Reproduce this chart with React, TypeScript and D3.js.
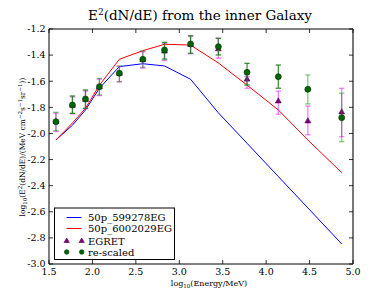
import React from "react";
import * as d3 from "d3";

const logE = [1.58, 1.77, 1.92, 2.08, 2.31, 2.58, 2.83, 3.13, 3.45, 3.78, 4.14, 4.48, 4.87];
const model599278 = [-2.05, -1.937, -1.82, -1.654, -1.488, -1.466, -1.483, -1.585, -1.842, -2.075, -2.33, -2.57, -2.846];
const model6002029 = [-2.05, -1.92, -1.807, -1.631, -1.432, -1.366, -1.317, -1.323, -1.46, -1.63, -1.82, -2.05, -2.30];

const egretVal = [-1.915, -1.79, -1.745, -1.65, -1.545, -1.44, -1.375, -1.325, -1.358, -1.59, -1.757, -1.91, -1.841];
const egretLo = [-1.985, -1.85, -1.81, -1.71, -1.605, -1.5, -1.44, -1.39, -1.424, -1.654, -1.853, -2.01, -2.025];
const egretHi = [-1.845, -1.72, -1.675, -1.585, -1.487, -1.375, -1.31, -1.258, -1.27, -1.565, -1.675, -1.79, -1.654];

const rescVal = [-1.91, -1.782, -1.736, -1.642, -1.539, -1.432, -1.361, -1.315, -1.335, -1.532, -1.565, -1.662, -1.879];
const rescLo = [-1.979, -1.846, -1.807, -1.705, -1.603, -1.493, -1.43, -1.386, -1.399, -1.629, -1.654, -1.774, -2.063];
const rescHi = [-1.838, -1.713, -1.667, -1.578, -1.483, -1.368, -1.302, -1.251, -1.272, -1.463, -1.476, -1.552, -1.692];
// points whose re-scaled error bars are drawn solid (stat) vs. faint
const rescSolid = [false, true, true, false, false, false, true, true, true, true, true, false, false];

const xTicks = [1.5, 2.0, 2.5, 3.0, 3.5, 4.0, 4.5, 5.0];
const yTicks = [-1.2, -1.4, -1.6, -1.8, -2.0, -2.2, -2.4, -2.6, -2.8, -3.0];
const legendLabels = ["50p_599278EG", "50p_6002029EG", "EGRET", "re-scaled"];

const W = 392, H = 294;
const L = 49, R = 353, T = 29, B = 264;

export default function App() {
  const x = d3.scaleLinear().domain([1.5, 5.0]).range([L, R]);
  const y = d3.scaleLinear().domain([-3.0, -1.2]).range([B, T]);
  const line = d3.line<number>().x((_, i) => x(logE[i])).y((d) => y(d));
  const tri = d3.symbol().type(d3.symbolTriangle).size(15)();
  const triL = d3.symbol().type(d3.symbolTriangle).size(12)();

  const errBar = (xv: number, lo: number, hi: number, color: string, op: number, key: string) => (
    <g key={key} stroke={color} strokeOpacity={op} strokeWidth={1.3}>
      <line x1={x(xv)} x2={x(xv)} y1={y(lo)} y2={y(hi)} />
      <line x1={x(xv) - 2.7} x2={x(xv) + 2.7} y1={y(lo)} y2={y(lo)} />
      <line x1={x(xv) - 2.7} x2={x(xv) + 2.7} y1={y(hi)} y2={y(hi)} />
    </g>
  );

  return (
    <svg width={W} height={H} style={{ position: "absolute", left: 0, top: 0, background: "#fff", fontFamily: "'DejaVu Serif', serif" }}>
      <rect x={0} y={0} width={W} height={H} fill="#fff" />
      <text x={200} y={20} textAnchor="middle" fontSize={13.5}>
        E<tspan dy={-5.5} fontSize={9}>2</tspan><tspan dy={5.5}>(dN/dE) from the inner Galaxy</tspan>
      </text>

      <path d={line(model599278) || ""} fill="none" stroke="#0000ff" strokeWidth={1} />
      <path d={line(model6002029) || ""} fill="none" stroke="#ff0000" strokeWidth={1} />

      {logE.map((xv, i) => errBar(xv, egretLo[i], egretHi[i], "#ff00ff", 0.5, "ee" + i))}
      {logE.map((xv, i) => (
        <path key={"et" + i} d={tri || ""} transform={`translate(${x(xv)},${y(egretVal[i]) - 0.5})`} fill="#800080" stroke="#4b004b" strokeWidth={0.6} />
      ))}
      {logE.map((xv, i) => errBar(xv, rescLo[i], rescHi[i], rescSolid[i] ? "#1f7f1f" : "#008000", rescSolid[i] ? 0.85 : 0.45, "re" + i))}
      {logE.map((xv, i) => (
        <circle key={"rc" + i} cx={x(xv)} cy={y(rescVal[i])} r={3} fill="#006400" stroke="#003000" strokeWidth={0.6} />
      ))}

      {/* axes frame */}
      <line x1={L} x2={R} y1={T} y2={T} stroke="#000" strokeWidth={1} />
      <line x1={L} x2={R} y1={B} y2={B} stroke="#000" strokeWidth={1} />
      <line x1={L} x2={L} y1={T} y2={B} stroke="#000" strokeWidth={1} />
      <line x1={R} x2={R} y1={T} y2={B} stroke="#777" strokeWidth={2} />

      {xTicks.map((t) => (
        <g key={"xt" + t}>
          <line x1={x(t)} x2={x(t)} y1={B} y2={B - 4} stroke="#000" strokeWidth={0.8} />
          <line x1={x(t)} x2={x(t)} y1={T} y2={T + 4} stroke="#000" strokeWidth={0.8} />
          <text x={x(t)} y={275} textAnchor="middle" fontSize={9.5}>{t.toFixed(1)}</text>
        </g>
      ))}
      {yTicks.map((t) => (
        <g key={"yt" + t}>
          <line x1={L} x2={L + 4} y1={y(t)} y2={y(t)} stroke="#000" strokeWidth={0.8} />
          <line x1={R} x2={R - 4} y1={y(t)} y2={y(t)} stroke="#000" strokeWidth={0.8} />
          <text x={45.5} y={y(t) + 3.3} textAnchor="end" fontSize={9.5}>{t.toFixed(1)}</text>
        </g>
      ))}

      <text x={209} y={286} textAnchor="middle" fontSize={8}>
        log<tspan dy={2} fontSize={5.5}>10</tspan><tspan dy={-2}>(Energy/MeV)</tspan>
      </text>
      <text transform={`translate(25,147) rotate(-90)`} textAnchor="middle" fontSize={7.5}>
        log<tspan dy={2} fontSize={5.5}>10</tspan><tspan dy={-2}>(E</tspan><tspan dy={-3} fontSize={5.5}>2</tspan><tspan dy={3}>(dN/dE)/(MeV cm</tspan><tspan dy={-3} fontSize={5.5}>−2</tspan><tspan dy={3}>s</tspan><tspan dy={-3} fontSize={5.5}>−1</tspan><tspan dy={3}>sr</tspan><tspan dy={-3} fontSize={5.5}>−1</tspan><tspan dy={3}>))</tspan>
      </text>

      {/* legend */}
      <rect x={54.5} y={208} width={120} height={51.5} fill="#fff" stroke="#000" strokeWidth={1} />
      <line x1={66.5} x2={81.5} y1={217.5} y2={217.5} stroke="#0000ff" strokeWidth={1} />
      <text x={88} y={221.3} fontSize={10}>{legendLabels[0]}</text>
      <line x1={66.5} x2={81.5} y1={228.5} y2={228.5} stroke="#ff0000" strokeWidth={1} />
      <text x={88} y={232.3} fontSize={10}>{legendLabels[1]}</text>
      {[66.7, 81.7].map((lx) => (
        <path key={"lt" + lx} d={triL || ""} transform={`translate(${lx},241)`} fill="#800080" stroke="#4b004b" strokeWidth={0.6} />
      ))}
      <text x={88} y={245} fontSize={10}>{legendLabels[2]}</text>
      {[66.7, 81.7].map((lx) => (
        <circle key={"lc" + lx} cx={lx} cy={252} r={2.3} fill="#006400" stroke="#003000" strokeWidth={0.6} />
      ))}
      <text x={88} y={255.5} fontSize={10}>{legendLabels[3]}</text>
    </svg>
  );
}
